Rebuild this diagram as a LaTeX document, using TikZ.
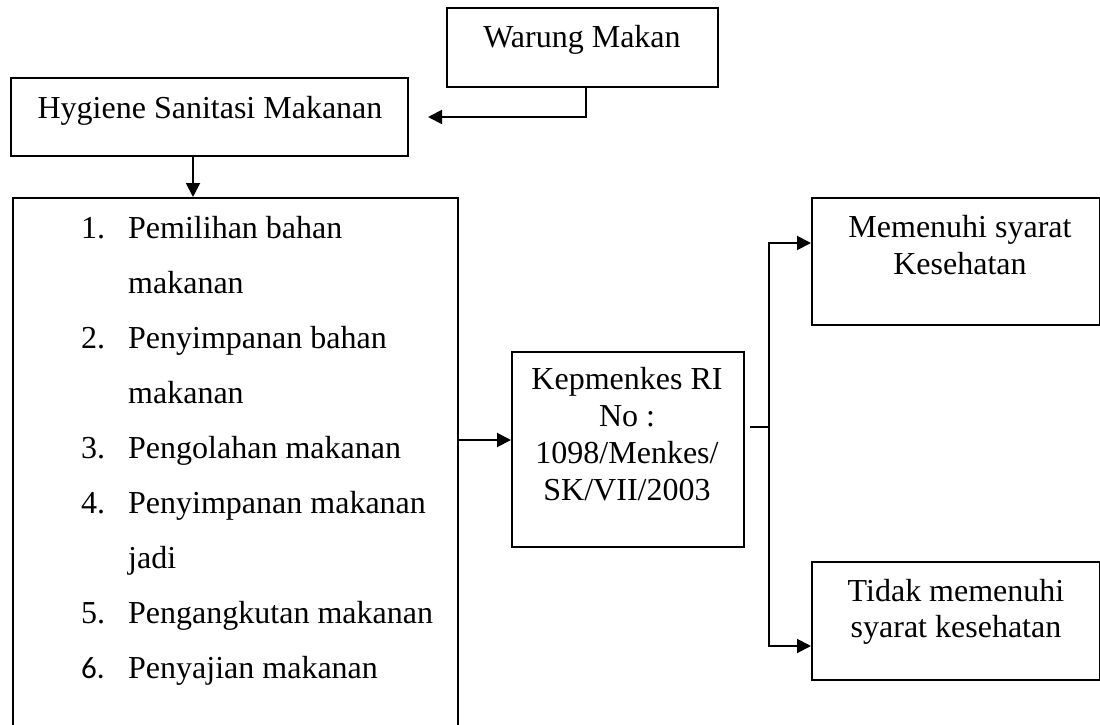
\documentclass[tikz,border=0pt]{standalone}
\usepackage{fontspec}
\setmainfont{Liberation Serif}
\newfontfamily\numsans{Carlito}
\usetikzlibrary{arrows.meta}
\begin{document}
\begin{tikzpicture}[x=1pt,y=-1pt,
  box/.style={draw,line width=1.9pt,inner sep=0pt,anchor=north west},
  txt/.style={inner sep=0pt,anchor=base,font=\fontsize{32}{37}\selectfont},
  ltxt/.style={inner sep=0pt,anchor=base west,font=\fontsize{32}{37}\selectfont},
  arr/.style={line width=1.9pt,-{Triangle[length=14pt,width=14pt]}},
  ln/.style={line width=1.9pt}]
\clip (0,0) rectangle (1100,725);
% boxes
\node[box,minimum width=271pt,minimum height=79pt] (warung) at (446,7) {};
\node[box,minimum width=397pt,minimum height=78pt] (hyg) at (10,77) {};
\node[box,minimum width=445pt,minimum height=580pt] (list) at (12,197) {};
\node[box,minimum width=232pt,minimum height=195pt] (kep) at (511,351) {};
\node[box,minimum width=288pt,minimum height=127pt] (mem) at (811,197) {};
\node[box,minimum width=288pt,minimum height=118pt] (tid) at (811,561) {};
% texts
\node[txt] (warungT) at (582,48) {Warung Makan};
\node[txt] (hygT) at (210,118) {Hygiene Sanitasi Makanan};
\node[ltxt] (n1) at (81,238) {1.};
\node[ltxt] (t1) at (128,238) {Pemilihan bahan};
\node[ltxt] (t1b) at (128,293) {makanan};
\node[ltxt] (n2) at (81,348) {2.};
\node[ltxt] (t2) at (128,348) {Penyimpanan bahan};
\node[ltxt] (t2b) at (128,403) {makanan};
\node[ltxt] (n3) at (81,458) {3.};
\node[ltxt] (t3) at (128,458) {Pengolahan makanan};
\node[ltxt] (n4) at (81,513) {4.};
\node[ltxt] (t4) at (128,513) {Penyimpanan makanan};
\node[ltxt] (t4b) at (128,568) {jadi};
\node[ltxt] (n5) at (81,623) {5.};
\node[ltxt] (t5) at (128,623) {Pengangkutan makanan};
\node[ltxt,font=\fontsize{31}{37}\numsans] (n6) at (81,678) {6.};
\node[ltxt] (t6) at (128,678) {Penyajian makanan};
\node[txt] (k1) at (627,389) {Kepmenkes RI};
\node[txt] (k2) at (627,426) {No :};
\node[txt] (k3) at (627,463) {1098/Menkes/};
\node[txt] (k4) at (627,500) {SK/VII/2003};
\node[txt] (m1) at (960,237) {Memenuhi syarat};
\node[txt] (m2) at (960,274) {Kesehatan};
\node[txt] (d1) at (956,601) {Tidak memenuhi};
\node[txt] (d2) at (956,637) {syarat kesehatan};
% connectors
\coordinate (wc) at (586,117);
\coordinate (wt) at (428,117);
\draw[arr] (warung.south -| wc) -- (wc) -- (wt);
\coordinate (dx) at (193,0);
\draw[arr] (hyg.south -| dx) -- (list.north -| dx);
\coordinate (my) at (0,440);
\draw[arr] (list.east |- my) -- (kep.west |- my);
\coordinate (b0) at (750,427);
\coordinate (bv) at (769,427);
\coordinate (ym) at (0,243);
\coordinate (yt) at (0,646);
\draw[ln] (b0) -- (bv);
\draw[arr] (bv) |- (mem.west |- ym);
\draw[arr] (bv) |- (tid.west |- yt);
\end{tikzpicture}
\end{document}
